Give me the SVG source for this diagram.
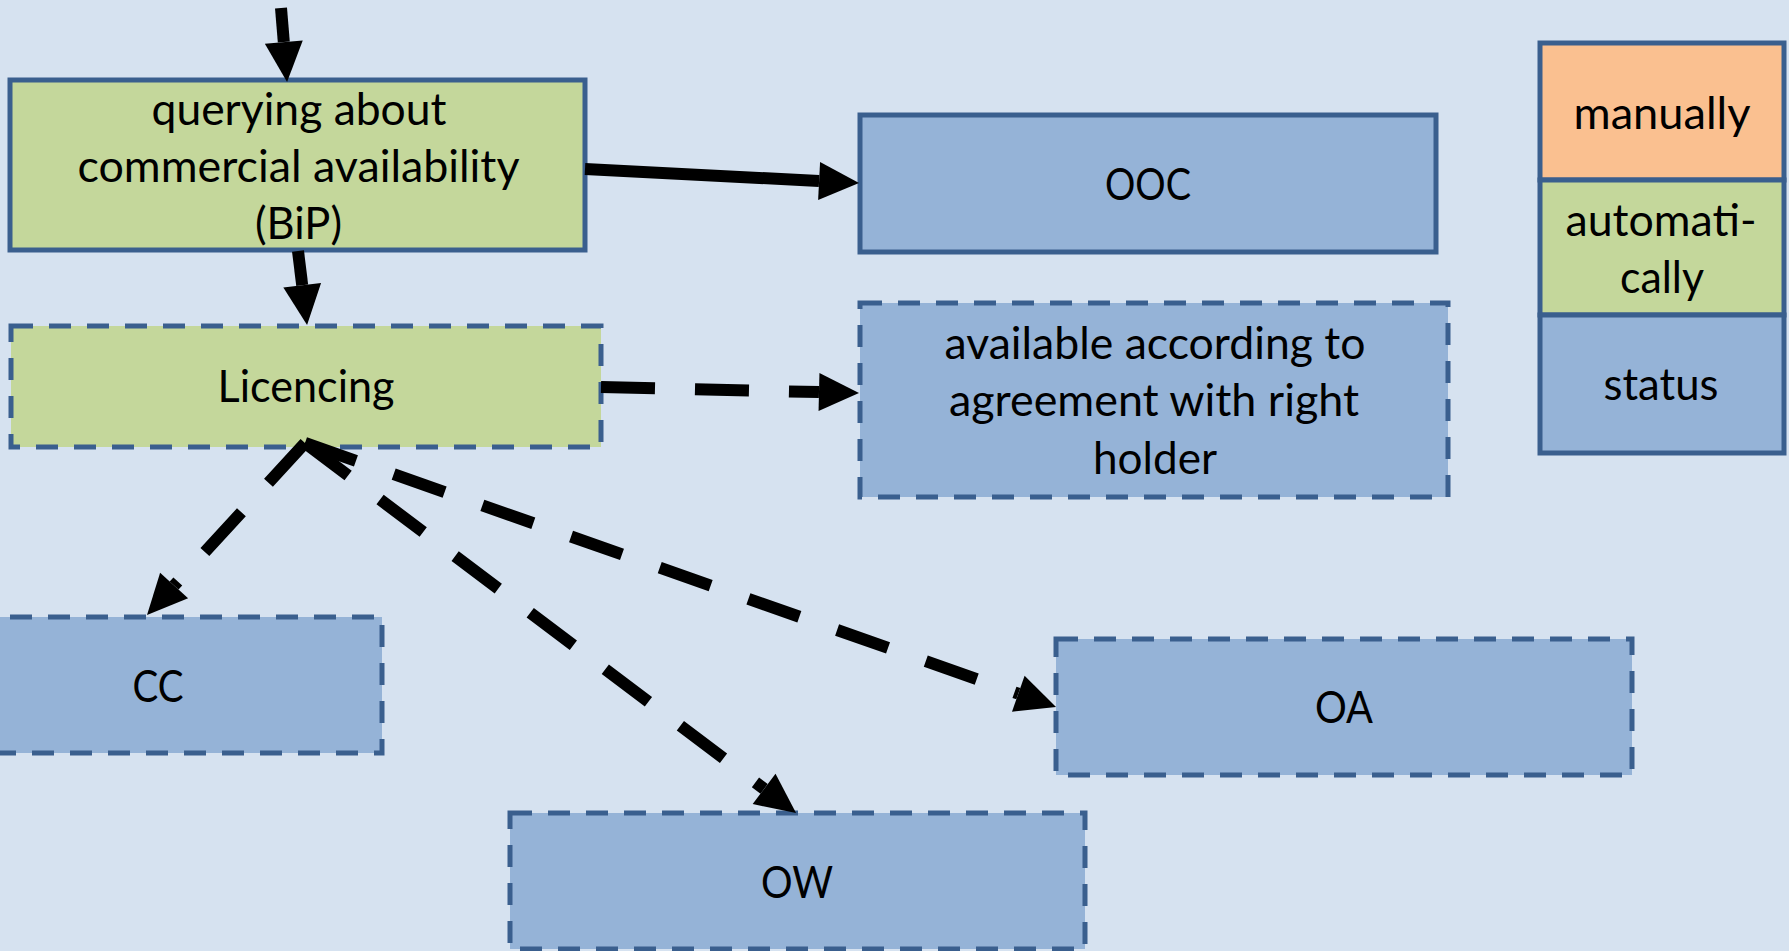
<svg xmlns="http://www.w3.org/2000/svg" width="1789" height="951" viewBox="0 0 1789 951">
<defs>
<style>
.box{stroke:#3a5f8e;stroke-width:5}
.dash{stroke-dasharray:22 16}
.g{fill:#c4d79b}
.b{fill:#95b3d7}
.o{fill:#fac090}
.t{font-family:Lato,"Open Sans","Liberation Sans",sans-serif;font-size:44px;fill:#000;text-anchor:middle}
.c{stroke:#000;stroke-width:12;fill:none}
.cd{stroke-dasharray:54 40}
</style>
<marker id="ah" markerUnits="userSpaceOnUse" markerWidth="40" markerHeight="38" refX="0" refY="19" orient="auto" overflow="visible">
<path d="M0,0 L40,19 L0,38 z" fill="#000"/>
</marker>
</defs>
<rect width="1789" height="951" fill="#d6e2f0"/>

<g id="query">
<rect class="box g" x="10" y="80" width="575" height="170"/>
<text class="t" x="299" y="125" textLength="295" lengthAdjust="spacingAndGlyphs">querying about</text>
<text class="t" x="298.5" y="182" textLength="442" lengthAdjust="spacingAndGlyphs">commercial availability</text>
<text class="t" x="298.5" y="239" textLength="87" lengthAdjust="spacingAndGlyphs">(BiP)</text>
</g>

<g id="licencing">
<rect class="box dash g" x="11" y="326" width="590" height="121"/>
<text class="t" x="306" y="402" textLength="177" lengthAdjust="spacingAndGlyphs">Licencing</text>
</g>

<g id="ooc">
<rect class="box b" x="860" y="115" width="576" height="137"/>
<text class="t" x="1148" y="200" textLength="86" lengthAdjust="spacingAndGlyphs">OOC</text>
</g>

<g id="available">
<rect class="box dash b" x="860" y="303" width="588" height="194"/>
<text class="t" x="1155" y="359" textLength="421" lengthAdjust="spacingAndGlyphs">available according to</text>
<text class="t" x="1154" y="416" textLength="410" lengthAdjust="spacingAndGlyphs">agreement with right</text>
<text class="t" x="1155" y="474" textLength="124" lengthAdjust="spacingAndGlyphs">holder</text>
</g>

<g id="cc">
<rect class="box dash b" x="-66" y="617" width="448" height="136"/>
<text class="t" x="158" y="702" textLength="51" lengthAdjust="spacingAndGlyphs">CC</text>
</g>

<g id="ow">
<rect class="box dash b" x="510" y="813" width="575" height="136"/>
<text class="t" x="797" y="898" textLength="72" lengthAdjust="spacingAndGlyphs">OW</text>
</g>

<g id="oa">
<rect class="box dash b" x="1056" y="639" width="576" height="136"/>
<text class="t" x="1344" y="723" textLength="58" lengthAdjust="spacingAndGlyphs">OA</text>
</g>

<g id="legend">
<rect class="box o" x="1540" y="43" width="244" height="137"/>
<rect class="box g" x="1540" y="180" width="244" height="135"/>
<rect class="box b" x="1540" y="315" width="244" height="138"/>
<text class="t" x="1662" y="129" textLength="177" lengthAdjust="spacingAndGlyphs">manually</text>
<text class="t" x="1661" y="236" textLength="191" lengthAdjust="spacingAndGlyphs">automati-</text>
<text class="t" x="1662" y="293" textLength="84" lengthAdjust="spacingAndGlyphs">cally</text>
<text class="t" x="1661" y="400" textLength="115" lengthAdjust="spacingAndGlyphs">status</text>
</g>

<g id="connectors">
<path class="c" d="M281,8 L283.8,42.1" marker-end="url(#ah)"/>
<path class="c" d="M298,251 L302.2,285.3" marker-end="url(#ah)"/>
<path class="c" d="M585,169 L819.1,181" marker-end="url(#ah)"/>
<path class="c cd" d="M601,387 L819,392.1" marker-end="url(#ah)"/>
<path class="c cd" d="M305,443 L174.1,585.5" marker-end="url(#ah)"/>
<path class="c cd" d="M305,443 L764.1,788.9" marker-end="url(#ah)"/>
<path class="c cd" d="M305,443 L1018.3,693.7" marker-end="url(#ah)"/>
</g>
</svg>
